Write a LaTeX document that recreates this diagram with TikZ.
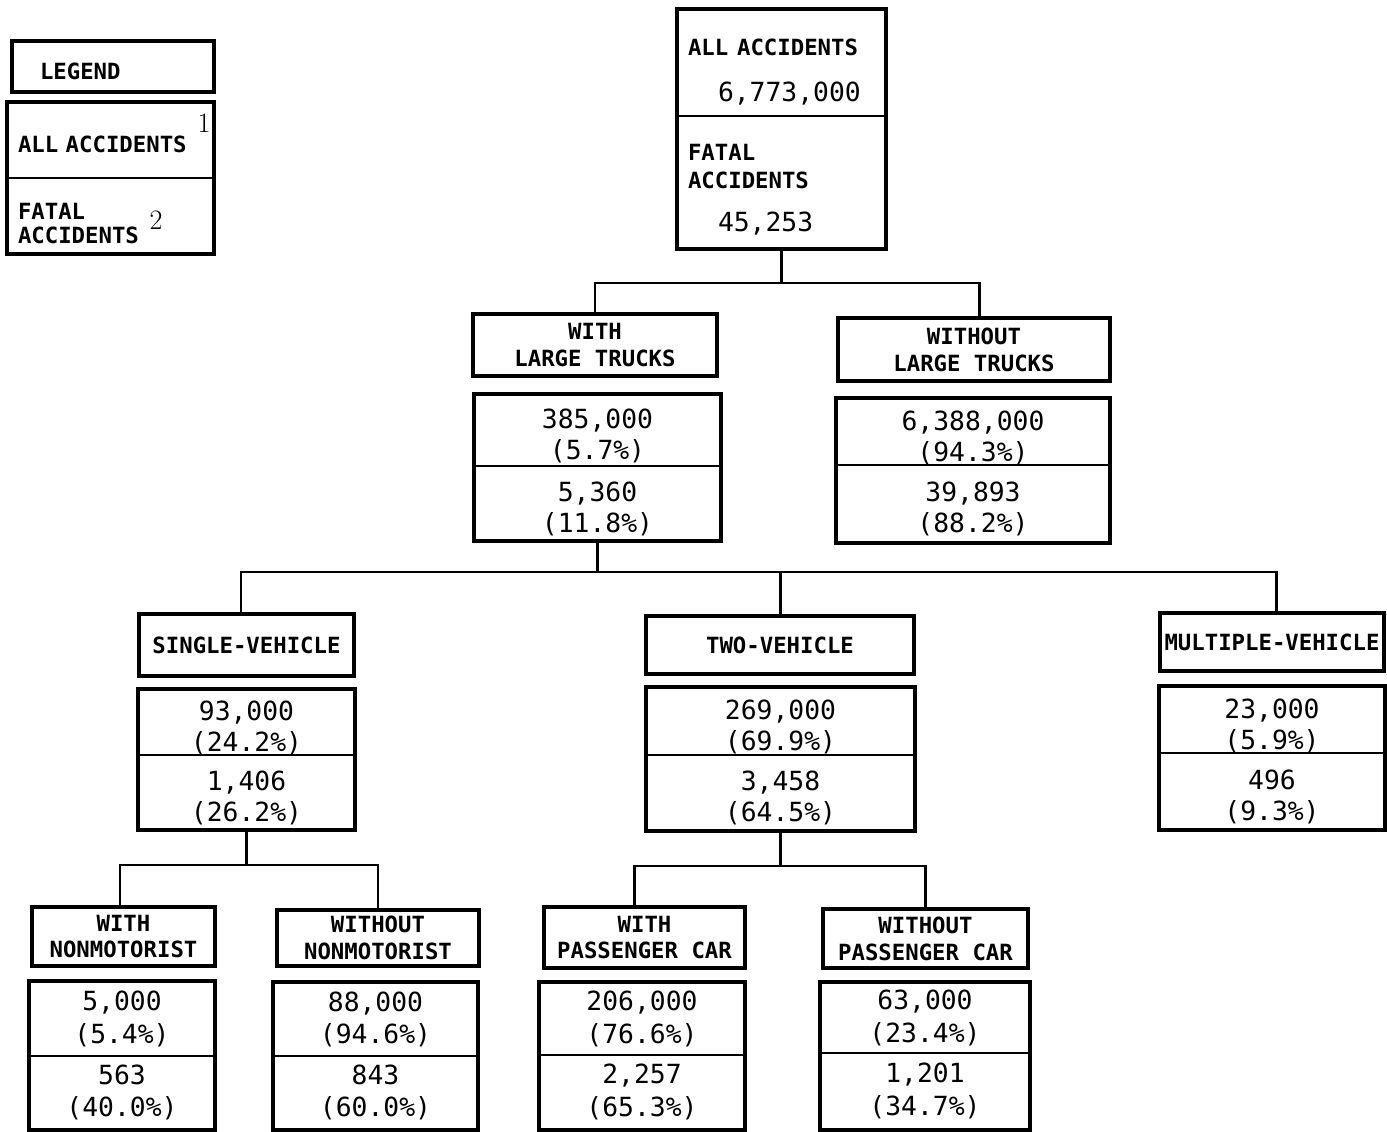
\documentclass[tikz,border=0pt]{standalone}
\usepackage{fontspec}
\usepackage{tikz}
\usetikzlibrary{positioning}

\newfontfamily\dejamono{DejaVu Sans Mono}
\newcommand\lblfont{\dejamono\bfseries\fontsize{12.7}{15.3}\selectfont}
\newcommand\numfont{\dejamono\fontsize{15}{17.6}\selectfont}
% two lines of a data half, pushed down a little
\newcommand\pair[2]{\rule{0pt}{17.7pt}#1\\#2}
\newcommand\lowpair[2]{#1\\[1pt]#2}

\tikzset{
  lbl/.style={draw, line width=2.3pt, font=\lblfont, align=center, inner sep=0pt},
  half/.style={draw, line width=1.1pt, font=\numfont, align=center, inner sep=0pt},
  outer/.style={line width=2.3pt},
  link/.style={line width=1.7pt},
  fnote/.style={inner sep=0pt, font=\fontsize{16}{16}\selectfont}
}

\begin{document}
\begin{tikzpicture}[x=0.02cm, y=-0.02cm]
  \useasboundingbox (0,0) rectangle (1387,1132);

  % legend
  \node[lbl, minimum width=4.04cm, minimum height=1.02cm, text width=2.92cm, inner xsep=0.56cm, align=left] (leg) at (113,66.5) {\rule{0pt}{15pt}LEGEND};
  \node[half, font=\lblfont, minimum width=4.1cm, minimum height=1.5cm, text width=3.7cm, inner xsep=0.2cm, align=left] (legall) at (110.5,140.5) {\rule{0pt}{14.3pt}ALL ACCIDENTS};
  \node[half, font=\lblfont, minimum width=4.1cm, minimum height=1.5cm, text width=3.7cm, inner xsep=0.2cm, align=left] (legfat) at (110.5,215.5) {\rule{0pt}{18.9pt}FATAL\\[-1.7pt]ACCIDENTS};
  \draw[outer] (legall.north west) rectangle (legfat.south east);
  \node[fnote] (fn1) at (204,123) {1};
  \node[fnote] (fn2) at (156,220) {2};

  % all accidents
  \node[half, minimum width=4.14cm, minimum height=2.12cm, text width=3.74cm, inner xsep=0.2cm, align=left] (all) at (781.5,63)
    {{\lblfont\rule{0pt}{19.5pt}ALL ACCIDENTS}\\[0.3cm]\hspace*{0.6cm}6,773,000};
  \node[half, minimum width=4.14cm, minimum height=2.64cm, text width=3.74cm, inner xsep=0.2cm, align=left] (fatal) at (781.5,182)
    {{\lblfont\rule{0pt}{18.3pt}FATAL}\\[-2pt]{\lblfont ACCIDENTS}\\[0.25cm]\hspace*{0.6cm}45,253};
  \draw[outer] (all.north west) rectangle (fatal.south east);

  % large trucks
  \node[lbl, minimum width=4.88cm, minimum height=1.24cm] (wlt) at (595,345) {WITH\\LARGE TRUCKS};
  \node[half, minimum width=4.9cm, minimum height=1.42cm] (wltn) at (597.5,430.5) {\pair{385,000}{(5.7\%)}};
  \node[half, minimum width=4.9cm, minimum height=1.48cm] (wltf) at (597.5,503) {\pair{5,360}{(11.8\%)}};
  \node[lbl, minimum width=5.44cm, minimum height=1.26cm] (wolt) at (974,349.5) {WITHOUT\\LARGE TRUCKS};
  \node[half, minimum width=5.44cm, minimum height=1.32cm] (woltn) at (973,432) {\pair{6,388,000}{(94.3\%)}};
  \node[half, minimum width=5.44cm, minimum height=1.54cm] (woltf) at (973,503.5) {\pair{39,893}{(88.2\%)}};

  % vehicles
  \node[lbl, minimum width=4.3cm, minimum height=1.24cm] (sv) at (246.5,645) {SINGLE-VEHICLE};
  \node[half, minimum width=4.3cm, minimum height=1.3cm] (svn) at (246.5,722.5) {\pair{93,000}{(24.2\%)}};
  \node[half, minimum width=4.3cm, minimum height=1.48cm] (svf) at (246.5,792) {\pair{1,406}{(26.2\%)}};
  \node[lbl, minimum width=5.36cm, minimum height=1.16cm] (tv) at (780,645) {TWO-VEHICLE};
  \node[half, minimum width=5.34cm, minimum height=1.34cm] (tvn) at (780.5,721.5) {\pair{269,000}{(69.9\%)}};
  \node[half, minimum width=5.34cm, minimum height=1.5cm] (tvf) at (780.5,792.5) {\pair{3,458}{(64.5\%)}};
  \node[lbl, minimum width=4.48cm, minimum height=1.16cm] (mv) at (1272,642) {MULTIPLE-VEHICLE};
  \node[half, minimum width=4.48cm, minimum height=1.32cm] (mvn) at (1272,720) {\pair{23,000}{(5.9\%)}};
  \node[half, minimum width=4.48cm, minimum height=1.52cm] (mvf) at (1272,791) {\pair{496}{(9.3\%)}};

  % nonmotorist / passenger car
  \node[lbl, minimum width=3.66cm, minimum height=1.18cm] (wn) at (123.5,936.5) {WITH\\NONMOTORIST};
  \node[half, minimum width=3.68cm, minimum height=1.48cm] (wnn) at (122,1019) {\lowpair{5,000}{(5.4\%)}};
  \node[half, minimum width=3.68cm, minimum height=1.46cm] (wnf) at (122,1092.5) {\lowpair{563}{(40.0\%)}};
  \node[lbl, minimum width=4.04cm, minimum height=1.12cm] (won) at (378,938) {WITHOUT\\NONMOTORIST};
  \node[half, minimum width=4.06cm, minimum height=1.46cm] (wonn) at (375.5,1019.5) {\lowpair{88,000}{(94.6\%)}};
  \node[half, minimum width=4.06cm, minimum height=1.46cm] (wonf) at (375.5,1092.5) {\lowpair{843}{(60.0\%)}};
  \node[lbl, minimum width=4.02cm, minimum height=1.22cm] (wp) at (644.5,937.5) {WITH\\PASSENGER CAR};
  \node[half, minimum width=4.08cm, minimum height=1.44cm] (wpn) at (642,1019) {\lowpair{206,000}{(76.6\%)}};
  \node[half, minimum width=4.08cm, minimum height=1.48cm] (wpf) at (642,1092) {\lowpair{2,257}{(65.3\%)}};
  \node[lbl, minimum width=4.1cm, minimum height=1.18cm] (wop) at (925.5,938.5) {WITHOUT\\PASSENGER CAR};
  \node[half, minimum width=4.16cm, minimum height=1.4cm] (wopn) at (925,1018) {\lowpair{63,000}{(23.4\%)}};
  \node[half, minimum width=4.16cm, minimum height=1.52cm] (wopf) at (925,1091) {\lowpair{1,201}{(34.7\%)}};

  \foreach \n in {wlt,wolt,sv,tv,mv,wn,won,wp,wop}
    \draw[outer] (\n n.north west) rectangle (\n f.south east);

  % connectors
  \coordinate (j1) at (781.5,283);
  \coordinate (j2) at (597.5,572);
  \coordinate (j3) at (246.5,865);
  \coordinate (j4) at (780.5,866);
  \draw[link] (fatal.south) -- (j1);
  \draw[link] (wlt.north) |- (j1) -| ([xshift=0.1cm]wolt.north);
  \draw[link] (wltf.south) -- (j2);
  \draw[link] ([xshift=-0.11cm]sv.north) |- (j2) -| ([xshift=0.08cm]mv.north);
  \draw[link] (tv.north) -- (tv.north |- j2);
  \draw[link] (svf.south) -- (j3);
  \draw[link] ([xshift=-0.07cm]wn.north) |- (j3) -| (won.north);
  \draw[link] (tvf.south) -- (j4);
  \draw[link] ([xshift=-0.21cm]wp.north) |- (j4) -| (wop.north);
\end{tikzpicture}
\end{document}
